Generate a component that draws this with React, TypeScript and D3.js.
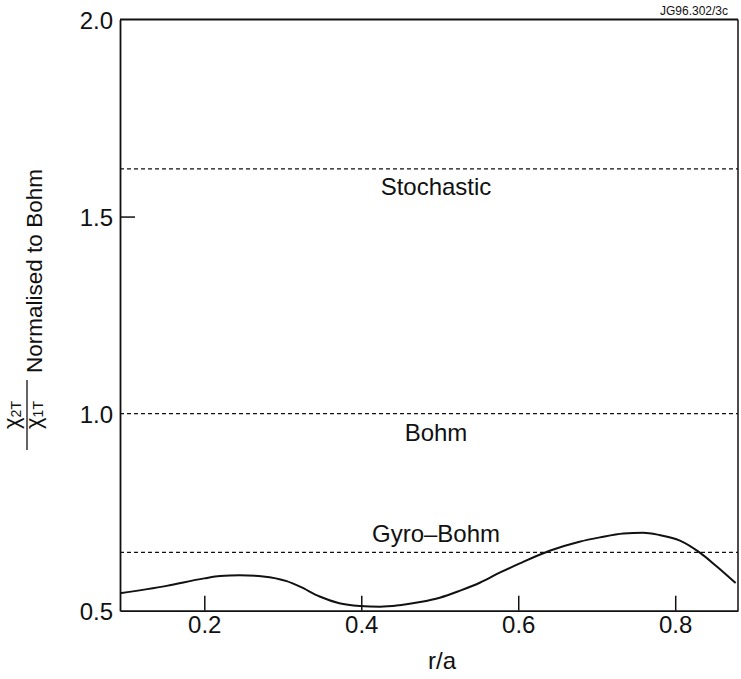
import React, { useEffect, useRef } from "react";
import * as d3 from "d3";

const curveX = [0.0926, 0.152, 0.2, 0.22, 0.245, 0.275, 0.305, 0.322, 0.347, 0.372, 0.398, 0.424, 0.449, 0.475, 0.5, 0.526, 0.551, 0.577, 0.602, 0.64, 0.678, 0.704, 0.734, 0.759, 0.78, 0.806, 0.831, 0.853, 0.877];
const curveY = [0.544, 0.563, 0.582, 0.588, 0.59, 0.587, 0.575, 0.561, 0.536, 0.519, 0.512, 0.51, 0.514, 0.522, 0.533, 0.551, 0.571, 0.597, 0.62, 0.652, 0.675, 0.686, 0.696, 0.698, 0.692, 0.678, 0.648, 0.612, 0.57];

const refNames = ["Stochastic", "Bohm", "Gyro\u2013Bohm"];
const refValues = [1.621, 1.0, 0.648];

const xTicks = [0.2, 0.4, 0.6, 0.8];
const yTicks = [0.5, 1.0, 1.5, 2.0];

const W = 741, H = 679;
const L = 120, R = 738, T = 19.5, B = 610.7;
const FONT = "'Liberation Sans', Arial, Helvetica, sans-serif";

export default function App() {
  const ref = useRef<SVGSVGElement>(null);
  useEffect(() => {
    const svg = d3.select(ref.current);
    svg.selectAll("*").remove();
    const x = d3.scaleLinear().domain([0.0926, 0.88]).range([L, R]);
    const y = d3.scaleLinear().domain([0.5, 2.0]).range([B, T]);

    // reference dashed lines
    refValues.forEach((v) => {
      svg.append("line")
        .attr("x1", L).attr("x2", R)
        .attr("y1", y(v)).attr("y2", y(v))
        .attr("stroke", "#111").attr("stroke-width", 1.3)
        .attr("stroke-dasharray", "4,3");
    });
    const labelDy = [26, 27, -10];
    refNames.forEach((n, i) => {
      svg.append("text")
        .attr("x", 436).attr("y", y(refValues[i]) + labelDy[i])
        .attr("text-anchor", "middle")
        .attr("font-family", FONT).attr("font-size", 24)
        .attr("fill", "#111").text(n);
    });

    // curve
    const pts = curveX.map((v, i) => [v, curveY[i]] as [number, number]);
    const line = d3.line<[number, number]>()
      .x((d) => x(d[0])).y((d) => y(d[1]))
      .curve(d3.curveMonotoneX);
    svg.append("path").attr("d", line(pts)!)
      .attr("fill", "none").attr("stroke", "#111").attr("stroke-width", 2);

    // frame
    svg.append("line").attr("x1", L).attr("x2", R).attr("y1", T).attr("y2", T)
      .attr("stroke", "#111").attr("stroke-width", 2);
    svg.append("line").attr("x1", R).attr("x2", R).attr("y1", T).attr("y2", B)
      .attr("stroke", "#111").attr("stroke-width", 1.5);

    // axes
    const gx = svg.append("g").attr("transform", `translate(0,${B})`)
      .call(d3.axisBottom(x).tickValues(xTicks).tickSizeInner(-15).tickSizeOuter(0).tickPadding(6).tickFormat(d3.format(".1f")));
    gx.select(".domain").attr("stroke", "#111").attr("stroke-width", 1.8);
    gx.selectAll(".tick line").attr("stroke", "#111").attr("stroke-width", 1.5);
    gx.selectAll(".tick text").attr("font-family", FONT).attr("font-size", 24).attr("fill", "#111")
      .attr("dy", "0").attr("y", 22);

    const gy = svg.append("g").attr("transform", `translate(${L},0)`)
      .call(d3.axisLeft(y).tickValues(yTicks).tickSizeInner(-15).tickSizeOuter(0).tickPadding(7).tickFormat(d3.format(".1f")));
    gy.select(".domain").attr("stroke", "#111").attr("stroke-width", 1.8);
    gy.selectAll(".tick line").attr("stroke", "#111").attr("stroke-width", 1.5)
      .attr("display", (d: any) => (d === 1.5 ? null : "none"));
    gy.selectAll(".tick text").attr("font-family", FONT).attr("font-size", 24).attr("fill", "#111")
      .attr("x", -7).attr("dy", "0.36em");

    // x label
    svg.append("text").attr("x", 442).attr("y", 669).attr("text-anchor", "middle")
      .attr("font-family", FONT).attr("font-size", 24).attr("fill", "#111").text("r/a");

    // y label
    svg.append("text")
      .attr("transform", "translate(42,271) rotate(-90)")
      .attr("text-anchor", "middle")
      .attr("font-family", FONT).attr("font-size", 22.5).attr("fill", "#111")
      .text("Normalised to Bohm");

    const frac = svg.append("g").attr("transform", "translate(27,415) rotate(-90)");
    frac.append("line").attr("x1", -35).attr("x2", 35).attr("y1", 0).attr("y2", 0)
      .attr("stroke", "#111").attr("stroke-width", 1.3);
    const num = frac.append("text").attr("text-anchor", "middle").attr("y", -8)
      .attr("font-family", FONT).attr("font-size", 22).attr("fill", "#111");
    num.append("tspan").text("\u03C7");
    num.append("tspan").attr("font-size", 14).attr("dy", 2).text("2T");
    const den = frac.append("text").attr("text-anchor", "middle").attr("y", 14)
      .attr("font-family", FONT).attr("font-size", 22).attr("fill", "#111");
    den.append("tspan").text("\u03C7");
    den.append("tspan").attr("font-size", 14).attr("dy", 2).text("1T");

    // code label
    svg.append("text").attr("x", 728).attr("y", 15).attr("text-anchor", "end")
      .attr("font-family", FONT).attr("font-size", 12).attr("fill", "#111").text("JG96.302/3c");
  }, []);
  return (
    <svg ref={ref} width={W} height={H}
      style={{ position: "absolute", left: 0, top: 0, background: "#fff" }} />
  );
}
